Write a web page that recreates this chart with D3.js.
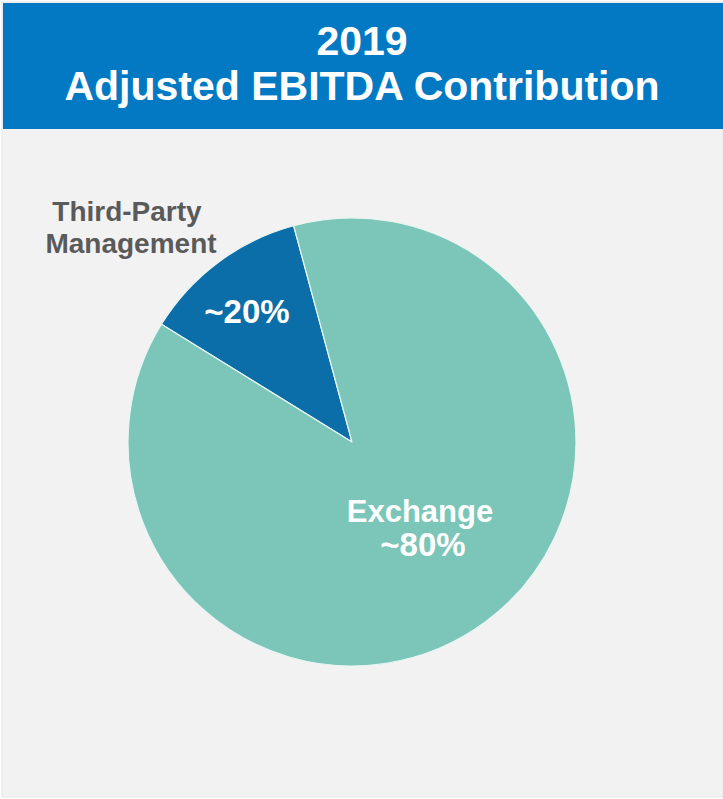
<!DOCTYPE html>
<html>
<head>
<meta charset="utf-8">
<script src="https://cdn.jsdelivr.net/npm/d3@7/dist/d3.min.js"></script>
<style>
  html, body { margin: 0; padding: 0; background: #ffffff; }
  svg { display: block; }
</style>
</head>
<body>
<svg id="chart" width="723" height="799"></svg>
<script>
// ---- data ----
const titleLines = ["2019", "Adjusted EBITDA Contribution"];
const segments = ["Third-Party Management", "Exchange"];
const sliceValues = [12, 88];            // drawn share of the circle
const sliceLabels = ["~20%", "~80%"];    // printed labels
const sliceColors = ["#0B6EA9", "#7CC6B9"];

const W = 723, H = 799;
const svg = d3.select("#chart");

// panel + header
svg.append("rect").attr("x", 2).attr("y", 2).attr("width", W - 2).attr("height", H - 4)
  .attr("fill", "#F2F2F2").attr("stroke", "#E6E6E6").attr("stroke-width", 1);
svg.append("rect").attr("x", 3).attr("y", 3).attr("width", W - 3).attr("height", 126)
  .attr("fill", "#0479C3");

const font = "'Liberation Sans', Arial, Helvetica, sans-serif";
svg.selectAll("text.title").data(titleLines).join("text")
  .attr("class", "title")
  .attr("x", 362)
  .attr("y", (d, i) => 55 + i * 45)
  .attr("text-anchor", "middle")
  .attr("font-family", font).attr("font-weight", "bold").attr("font-size", 41)
  .attr("fill", "#ffffff")
  .text(d => d);

// pie
const cx = 352, cy = 442, R = 224;
const startA = -58.3 * Math.PI / 180;
const pie = d3.pie().sort(null).startAngle(startA).endAngle(startA + 2 * Math.PI);
const arcs = pie(sliceValues);
const arc = d3.arc().innerRadius(0).outerRadius(R);

const g = svg.append("g").attr("transform", `translate(${cx},${cy})`);
g.selectAll("path").data(arcs).join("path")
  .attr("d", arc)
  .attr("fill", (d, i) => sliceColors[i])
  .attr("stroke", "#E8F6F3").attr("stroke-width", 1.2).attr("stroke-linejoin", "round");

// Third-Party label outside
const tpLines = ["Third-Party", "Management"];
svg.selectAll("text.tp").data(tpLines).join("text")
  .attr("class", "tp")
  .attr("x", (d, i) => i === 0 ? 127 : 131)
  .attr("y", (d, i) => 221 + i * 32)
  .attr("text-anchor", "middle")
  .attr("font-family", font).attr("font-weight", "bold").attr("font-size", 28)
  .attr("fill", "#5A5A5A")
  .text(d => d);

// in-slice labels
svg.append("text")
  .attr("x", 247).attr("y", 323)
  .attr("text-anchor", "middle")
  .attr("font-family", font).attr("font-weight", "bold").attr("font-size", 33)
  .attr("fill", "#ffffff")
  .text(sliceLabels[0]);

svg.append("text")
  .attr("x", 420).attr("y", 522)
  .attr("text-anchor", "middle")
  .attr("font-family", font).attr("font-weight", "bold").attr("font-size", 31)
  .attr("fill", "#ffffff")
  .text(segments[1]);
svg.append("text")
  .attr("x", 423).attr("y", 556)
  .attr("text-anchor", "middle")
  .attr("font-family", font).attr("font-weight", "bold").attr("font-size", 33)
  .attr("fill", "#ffffff")
  .text(sliceLabels[1]);
</script>
</body>
</html>
